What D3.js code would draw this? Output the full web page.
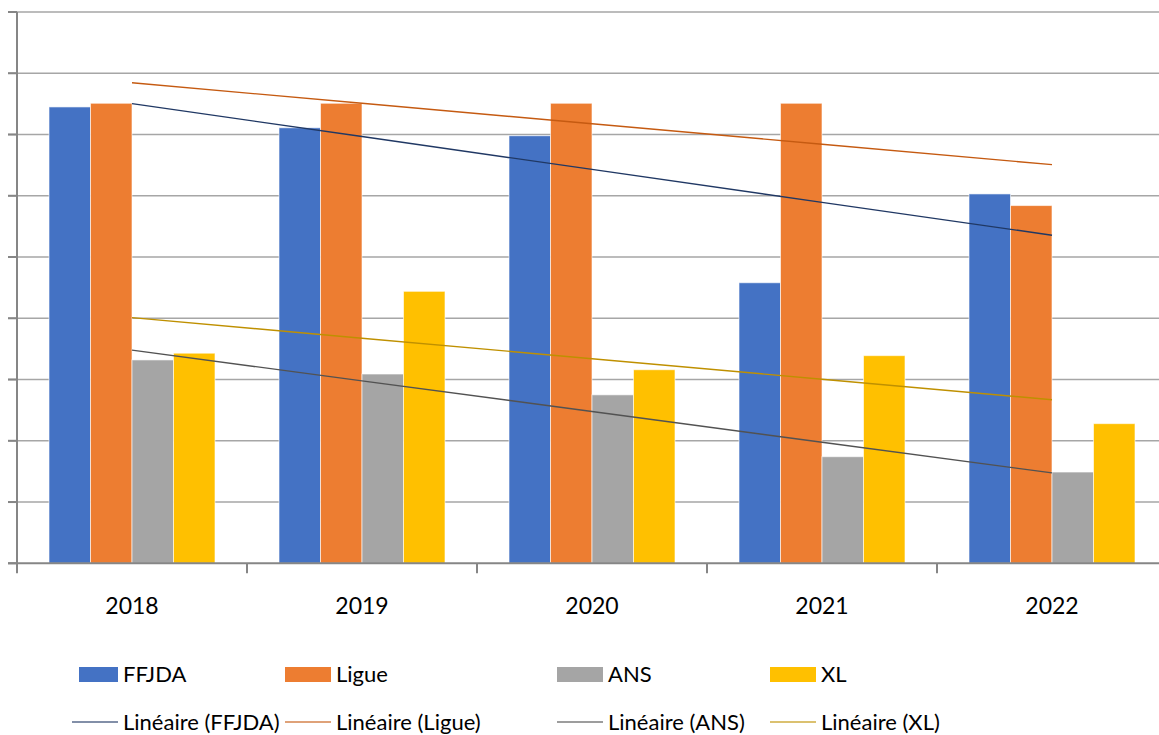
<!DOCTYPE html>
<html>
<head>
<meta charset="utf-8">
<script src="https://cdn.jsdelivr.net/npm/d3@7"></script>
<style>
body{margin:0;background:#fff;overflow:hidden;}
svg{font-family:Lato,"Liberation Sans",sans-serif;}
</style>
</head>
<body>
<div id="chart"></div>
<script>
var w=1159,h=735;

var years=["2018","2019","2020","2021","2022"];
var seriesNames=["FFJDA","Ligue","ANS","XL"];
var ffjda=[7.45,7.11,6.98,4.58,6.03];
var ligue=[7.51,7.51,7.51,7.51,5.84];
var ans=[3.32,3.09,2.75,1.74,1.49];
var xl=[3.43,4.44,3.16,3.39,2.28];
var barColors=["#4472C4","#ED7D31","#A5A5A5","#FFC000"];
var trendColors=["#203864","#C55A11","#525252","#BF9000"];

var values=[ffjda,ligue,ans,xl];

var svg=d3.select("#chart")
.append("svg")
.attr("width",w)
.attr("height",h);

var x0=d3.scaleBand().domain(years).range([17,1167]);
var x1=d3.scaleBand().domain(seriesNames).range([32,x0.bandwidth()-32]);
var y=d3.scaleLinear().domain([0,9]).range([563.3,12]);

// gridlines
svg.append("g")
.selectAll("line")
.data(d3.range(1,10))
.enter()
.append("line")
.attr("x1",8)
.attr("x2",w)
.attr("y1",function(d){return y(d)})
.attr("y2",function(d){return y(d)})
.style("stroke","#a6a6a6")
.style("stroke-width",1.5);

// bars
seriesNames.forEach(function(s,i){
	svg.append("g")
	.selectAll("rect")
	.data(values[i])
	.enter()
	.append("rect")
	.attr("x",function(d,j){return x0(years[j])+x1(s)})
	.attr("y",function(d){return y(d)})
	.attr("width",x1.bandwidth())
	.attr("height",function(d){return y(0)-y(d)})
	.style("fill",barColors[i])
	.style("stroke","#fff")
	.style("stroke-opacity",0.6)
	.style("stroke-width",1);
});

// linear trend lines (least squares)
function fit(v){
	var n=v.length,xs=d3.range(n);
	var mx=d3.mean(xs),my=d3.mean(v);
	var num=d3.sum(xs,function(t){return (t-mx)*(v[t]-my)});
	var den=d3.sum(xs,function(t){return (t-mx)*(t-mx)});
	var b=num/den;
	return xs.map(function(t){return my+b*(t-mx)});
}
var line=d3.line()
.x(function(d,j){return x0(years[j])+x0.bandwidth()/2})
.y(function(d){return y(d)});

values.forEach(function(v,i){
	svg.append("path")
	.datum(fit(v))
	.attr("d",line)
	.style("fill","none")
	.style("stroke",trendColors[i])
	.style("stroke-width",1.4);
});

// axes
var axis=svg.append("g").style("stroke","#868686").style("stroke-width",2);
axis.append("line").attr("x1",17).attr("x2",17).attr("y1",y(9)).attr("y2",y(0));
axis.append("line").attr("x1",8).attr("x2",w).attr("y1",y(0)).attr("y2",y(0));
axis.selectAll(".yt")
.data(d3.range(0,10))
.enter()
.append("line")
.attr("x1",8).attr("x2",17)
.attr("y1",function(d){return y(d)})
.attr("y2",function(d){return y(d)});
axis.selectAll(".xt")
.data(years)
.enter()
.append("line")
.attr("x1",function(d){return x0(d)})
.attr("x2",function(d){return x0(d)})
.attr("y1",y(0))
.attr("y2",y(0)+10);

svg.append("g")
.selectAll("text")
.data(years)
.enter()
.append("text")
.text(function(d){return d})
.attr("x",function(d){return x0(d)+x0.bandwidth()/2})
.attr("y",614)
.attr("text-anchor","middle")
.style("font-size","23px")
.style("fill","#000");

// legend
var legX=[79,285,557,770];
var leg=svg.append("g");
seriesNames.forEach(function(s,i){
	leg.append("rect")
	.attr("x",legX[i]).attr("y",667)
	.attr("width",i==0?39:46).attr("height",15)
	.style("fill",barColors[i]);
	leg.append("text")
	.text(s)
	.attr("x",legX[i]+(i==0?44:51)).attr("y",682)
	.style("font-size","22px");
	leg.append("line")
	.attr("x1",i==0?72:legX[i]).attr("x2",legX[i]+(i==0?39:46))
	.attr("y1",722).attr("y2",722)
	.style("stroke",trendColors[i])
	.style("stroke-opacity",0.75)
	.style("stroke-width",1.4);
	leg.append("text")
	.text("Linéaire ("+s+")")
	.attr("x",legX[i]+(i==0?44:51)).attr("y",730)
	.style("font-size","22px");
});
</script>
</body>
</html>
